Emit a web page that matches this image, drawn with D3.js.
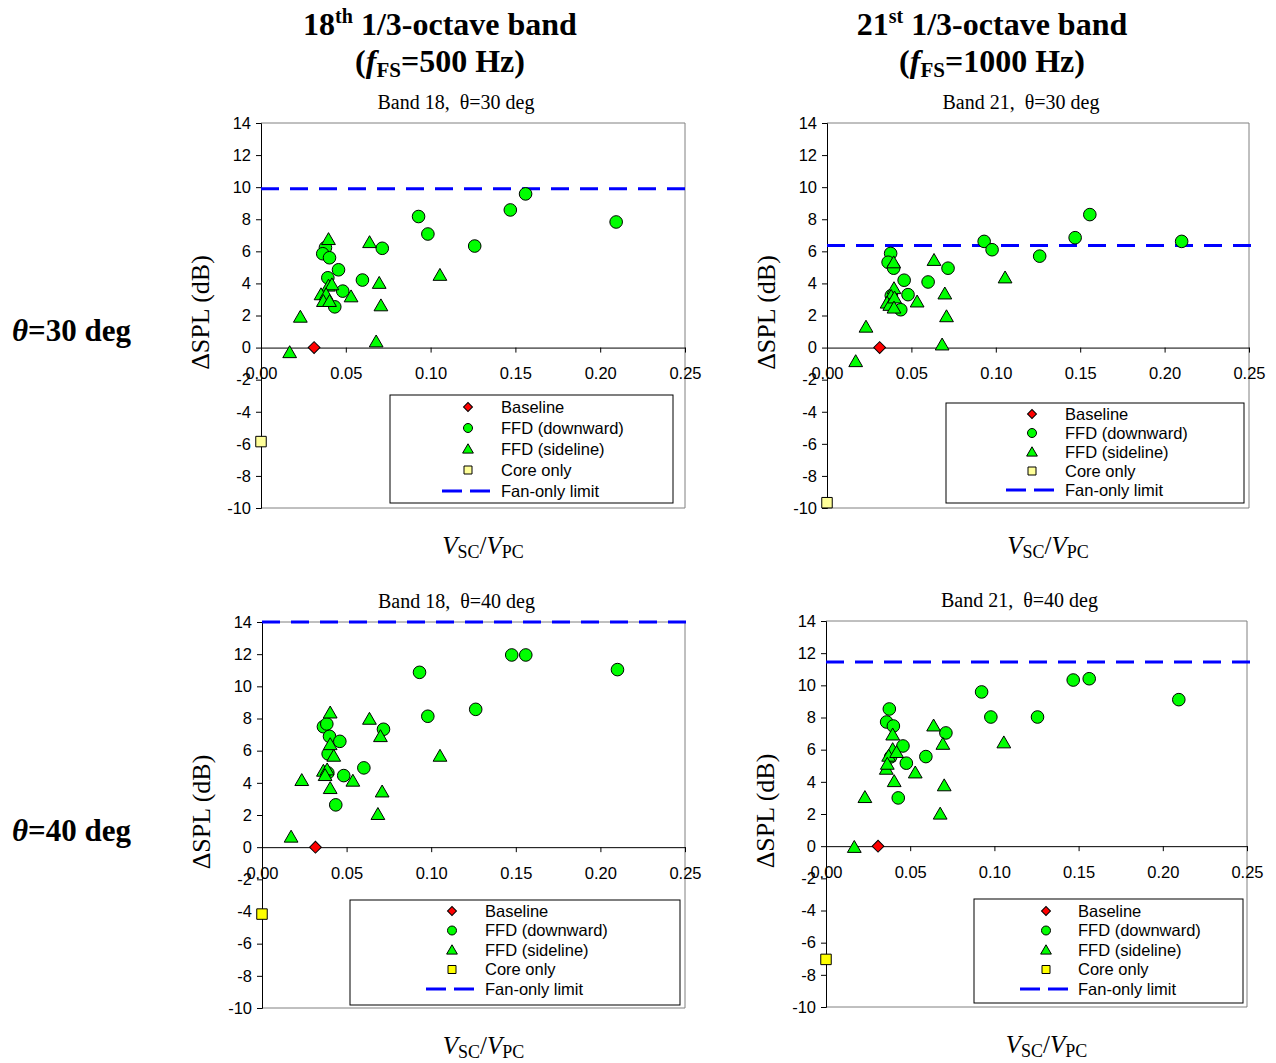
<!DOCTYPE html>
<html><head><meta charset="utf-8">
<script src="https://cdn.jsdelivr.net/npm/d3@7"></script>
<style>
body{margin:0;background:#fff;}
svg{display:block;}
</style></head>
<body>
<svg id="chart" width="1276" height="1063"></svg>
<script>
// ---------- DATA ----------
const xTicks = [0, 0.05, 0.10, 0.15, 0.20, 0.25];
const yTicks = [-10, -8, -6, -4, -2, 0, 2, 4, 6, 8, 10, 12, 14];
const legendLabels = ["Baseline", "FFD (downward)", "FFD (sideline)", "Core only", "Fan-only limit"];
const panelTitles = ["Band 18,\u00a0\u00a0\u03b8=30 deg", "Band 21,\u00a0\u00a0\u03b8=30 deg", "Band 18,\u00a0\u00a0\u03b8=40 deg", "Band 21,\u00a0\u00a0\u03b8=40 deg"];

// Band 18, theta = 30
const b18t30Baseline = [[0.0313, 0]];
const b18t30Down = [[0.0929,8.17],[0.0984,7.08],[0.147,8.58],[0.156,9.58],[0.2094,7.83],[0.126,6.33],[0.0715,6.19],[0.038,6.23],[0.0364,5.85],[0.0404,5.6],[0.0457,4.85],[0.0394,4.35],[0.0598,4.21],[0.0482,3.52],[0.0435,2.54]];
const b18t30Side = [[0.0398,6.67],[0.064,6.48],[0.1055,4.44],[0.0697,3.94],[0.0398,3.77],[0.0418,3.85],[0.0354,3.23],[0.0384,3.23],[0.0368,2.81],[0.0404,2.81],[0.0531,3.1],[0.0707,2.54],[0.0232,1.83],[0.0169,-0.38],[0.0679,0.29]];
const b18t30Core = [[0, -5.86]];
const b18t30Limit = 9.9;

// Band 21, theta = 30
const b21t30Baseline = [[0.0312, 0]];
const b21t30Down = [[0.0931,6.62],[0.0978,6.1],[0.147,6.85],[0.1557,8.29],[0.2101,6.62],[0.126,5.7],[0.0717,4.95],[0.0377,5.87],[0.0362,5.32],[0.0395,4.95],[0.0457,4.2],[0.0599,4.09],[0.048,3.3],[0.0437,2.36],[0.0381,3.24]];
const b21t30Side = [[0.0395,5.22],[0.0634,5.37],[0.1055,4.28],[0.0698,3.28],[0.0708,1.86],[0.0682,0.1],[0.0534,2.78],[0.0397,3.61],[0.038,3.13],[0.0356,2.71],[0.0372,2.57],[0.04,3.03],[0.0397,2.4],[0.0231,1.21],[0.017,-0.94]];
const b21t30Core = [[0, -9.67]];
const b21t30Limit = 6.37;

// Band 18, theta = 40
const b18t40Baseline = [[0.0316, 0]];
const b18t40Down = [[0.0931,10.87],[0.098,8.14],[0.1263,8.57],[0.1476,11.95],[0.1559,11.95],[0.2101,11.04],[0.0718,7.33],[0.0363,7.49],[0.0383,7.66],[0.0399,6.89],[0.046,6.58],[0.0391,5.8],[0.0602,4.93],[0.0483,4.45],[0.0436,2.63],[0.0389,4.62]];
const b18t40Side = [[0.0403,8.28],[0.0635,7.89],[0.07,6.81],[0.1052,5.59],[0.0403,6.31],[0.0424,5.59],[0.0363,4.66],[0.0385,4.74],[0.0373,4.39],[0.0537,4.04],[0.071,3.37],[0.0403,3.58],[0.0235,4.08],[0.0685,1.97],[0.0172,0.56]];
const b18t40Core = [[0, -4.16]];
const b18t40Limit = 14.0;

// Band 21, theta = 40
const b21t40Baseline = [[0.0309, 0]];
const b21t40Down = [[0.0924,9.59],[0.0979,8.03],[0.1256,8.03],[0.1468,10.33],[0.1563,10.41],[0.2095,9.11],[0.0712,7.04],[0.0376,8.53],[0.036,7.72],[0.04,7.47],[0.0457,6.23],[0.0593,5.57],[0.0477,5.16],[0.0429,3.0],[0.0384,5.55]];
const b21t40Side = [[0.0639,7.41],[0.0396,6.85],[0.0694,6.27],[0.1056,6.36],[0.0396,5.94],[0.0372,5.53],[0.0419,5.76],[0.0358,4.72],[0.053,4.49],[0.0405,3.95],[0.0702,3.69],[0.0678,1.93],[0.0231,2.96],[0.0168,-0.14],[0.0364,5.03]];
const b21t40Core = [[0, -7.04]];
const b21t40Limit = 11.45;

// ---------- LAYOUT ----------
const panels = [
  {data:{base:b18t30Baseline, down:b18t30Down, side:b18t30Side, core:b18t30Core, limit:b18t30Limit},
   left:261, right:685, top:123, bottom:508, coreFill:"#ffff99",
   leg:{x:390, y:395, w:283, h:108, mx:468, tx:501, y0:407, dy:21}},
  {data:{base:b21t30Baseline, down:b21t30Down, side:b21t30Side, core:b21t30Core, limit:b21t30Limit},
   left:827, right:1249, top:123, bottom:508, coreFill:"#ffff99",
   leg:{x:946, y:403, w:298, h:100, mx:1032, tx:1065, y0:414, dy:19}},
  {data:{base:b18t40Baseline, down:b18t40Down, side:b18t40Side, core:b18t40Core, limit:b18t40Limit},
   left:262, right:685, top:622, bottom:1008, coreFill:"#ffff00",
   leg:{x:350, y:900, w:330, h:105, mx:452, tx:485, y0:911, dy:19.5}},
  {data:{base:b21t40Baseline, down:b21t40Down, side:b21t40Side, core:b21t40Core, limit:b21t40Limit},
   left:826, right:1247, top:621, bottom:1007, coreFill:"#ffff00",
   leg:{x:974, y:899, w:269, h:104, mx:1046, tx:1078, y0:911, dy:19.5}}
];

const svg = d3.select("#chart");
const serif = "'Liberation Serif','Times New Roman',serif";
const sans = "'Liberation Sans',Arial,sans-serif";

// Column titles
function colTitle(cx, ord, sup, freq){
  const t1 = svg.append("text").attr("x", cx).attr("y", 35).attr("text-anchor","middle")
    .attr("font-family", serif).attr("font-weight","bold").attr("font-size", 32);
  t1.append("tspan").text(ord);
  t1.append("tspan").attr("font-size", 20).attr("dy", -12).text(sup);
  t1.append("tspan").attr("dy", 12).text(" 1/3-octave band");
  const t2 = svg.append("text").attr("x", cx).attr("y", 72).attr("text-anchor","middle")
    .attr("font-family", serif).attr("font-weight","bold").attr("font-size", 32);
  t2.append("tspan").text("(");
  t2.append("tspan").attr("font-style","italic").text("f");
  t2.append("tspan").attr("font-size", 21).attr("dy", 5).text("FS");
  t2.append("tspan").attr("dy", -5).text("=" + freq + " Hz)");
}
colTitle(440, "18", "th", "500");
colTitle(992, "21", "st", "1000");

// Row labels
function rowLabel(y, txt){
  const t = svg.append("text").attr("x", 12).attr("y", y)
    .attr("font-family", serif).attr("font-weight","bold").attr("font-size", 31);
  t.append("tspan").attr("font-style","italic").text("\u03b8");
  t.append("tspan").text(txt);
}
rowLabel(341, "=30 deg");
rowLabel(841, "=40 deg");

const symTri = d3.symbol().type(d3.symbolTriangle);
const symSquare = d3.symbol().type(d3.symbolSquare);

panels.forEach((p, i) => {
  const x = d3.scaleLinear().domain([0, 0.25]).range([p.left, p.right]);
  const y = d3.scaleLinear().domain([-10, 14]).range([p.bottom, p.top]);
  const g = svg.append("g");

  // frame (grey top/right/bottom)
  g.append("path")
    .attr("d", `M${p.left},${p.top}H${p.right}V${p.bottom}H${p.left}`)
    .attr("fill","none").attr("stroke","#808080").attr("stroke-width",1);

  // y axis
  const ya = g.append("g").attr("transform",`translate(${p.left},0)`)
    .call(d3.axisLeft(y).tickValues(yTicks).tickSize(5).tickPadding(5).tickFormat(d => String(d)));
  ya.attr("font-size", 16.5).attr("font-family", sans);
  ya.select(".domain").attr("stroke","#000");
  ya.selectAll(".tick line").attr("stroke","#000");
  ya.selectAll(".tick text").attr("fill","#000");

  // x axis at y=0
  const xa = g.append("g").attr("transform",`translate(0,${y(0)})`)
    .call(d3.axisBottom(x).tickValues(xTicks).tickSize(5).tickPadding(15).tickSizeOuter(0).tickFormat(d3.format(".2f")));
  xa.attr("font-size", 16.5).attr("font-family", sans);
  xa.select(".domain").attr("stroke","#000");
  xa.selectAll(".tick line").attr("stroke","#000");
  xa.selectAll(".tick text").attr("fill","#000");

  // subtitle
  svg.append("text").attr("x", (p.left + p.right)/2 - 17).attr("y", p.top - 14)
    .attr("text-anchor","middle").attr("font-family", serif).attr("font-size", 20).text(panelTitles[i]);

  // y label
  svg.append("text").attr("transform",`translate(${p.left - 52},${(p.top+p.bottom)/2 - 3}) rotate(-90)`)
    .attr("text-anchor","middle").attr("font-family", serif).attr("font-size", 26).text("\u0394SPL (dB)");

  // x label
  const xl = svg.append("text").attr("x", (p.left+p.right)/2 + 10).attr("y", p.bottom + 46)
    .attr("text-anchor","middle").attr("font-family", serif).attr("font-size", 25);
  xl.append("tspan").attr("font-style","italic").text("V");
  xl.append("tspan").attr("font-size", 18).attr("dy", 4).text("SC");
  xl.append("tspan").attr("dy", -4).text("/");
  xl.append("tspan").attr("font-style","italic").text("V");
  xl.append("tspan").attr("font-size", 18).attr("dy", 4).text("PC");

  // fan-only limit dashed line
  g.append("line").attr("x1", x(0)).attr("x2", x(0.25) + 4)
    .attr("y1", y(p.data.limit)).attr("y2", y(p.data.limit))
    .attr("stroke","#0000ff").attr("stroke-width",3).attr("stroke-dasharray","18,11");

  // baseline (rotated square = diamond)
  g.selectAll(".base").data(p.data.base).join("path")
    .attr("transform", d => `translate(${x(d[0])},${y(d[1])}) rotate(45)`)
    .attr("d", symSquare.size(70)()).attr("fill","#ff0000").attr("stroke","#000").attr("stroke-width",1);
  // downward circles
  g.selectAll(".down").data(p.data.down).join("circle")
    .attr("cx", d => x(d[0])).attr("cy", d => y(d[1])).attr("r", 6.3)
    .attr("fill","#00ff00").attr("stroke","#000").attr("stroke-width",1);
  // sideline triangles
  g.selectAll(".side").data(p.data.side).join("path")
    .attr("transform", d => `translate(${x(d[0])},${y(d[1])})`)
    .attr("d", symTri.size(82)()).attr("fill","#00ff00").attr("stroke","#000").attr("stroke-width",1);
  // core only
  g.selectAll(".core").data(p.data.core).join("path")
    .attr("transform", d => `translate(${x(d[0])},${y(d[1])})`)
    .attr("d", symSquare.size(110)()).attr("fill", p.coreFill).attr("stroke","#000").attr("stroke-width",1);

  // legend
  const L = p.leg;
  const lg = svg.append("g");
  lg.append("rect").attr("x", L.x).attr("y", L.y).attr("width", L.w).attr("height", L.h)
    .attr("fill","#fff").attr("stroke","#000").attr("stroke-width",1);
  legendLabels.forEach((lab, k) => {
    const cy = L.y0 + k * L.dy;
    lg.append("text").attr("x", L.tx).attr("y", cy + 5.5).attr("font-family", sans).attr("font-size", 16.5).text(lab);
    if (k === 0) lg.append("path").attr("transform",`translate(${L.mx},${cy}) rotate(45)`).attr("d", symSquare.size(40)())
      .attr("fill","#ff0000").attr("stroke","#000");
    if (k === 1) lg.append("circle").attr("cx", L.mx).attr("cy", cy).attr("r", 4.5)
      .attr("fill","#00ff00").attr("stroke","#000");
    if (k === 2) lg.append("path").attr("transform",`translate(${L.mx},${cy+1})`).attr("d", symTri.size(50)())
      .attr("fill","#00ff00").attr("stroke","#000");
    if (k === 3) lg.append("path").attr("transform",`translate(${L.mx},${cy})`).attr("d", symSquare.size(64)())
      .attr("fill", p.coreFill).attr("stroke","#000");
    if (k === 4) {
      [[-26,-6],[2,22]].forEach(s => lg.append("line").attr("x1", L.mx + s[0]).attr("x2", L.mx + s[1])
        .attr("y1", cy).attr("y2", cy).attr("stroke","#0000ff").attr("stroke-width",3));
    }
  });
});
</script>
</body></html>
